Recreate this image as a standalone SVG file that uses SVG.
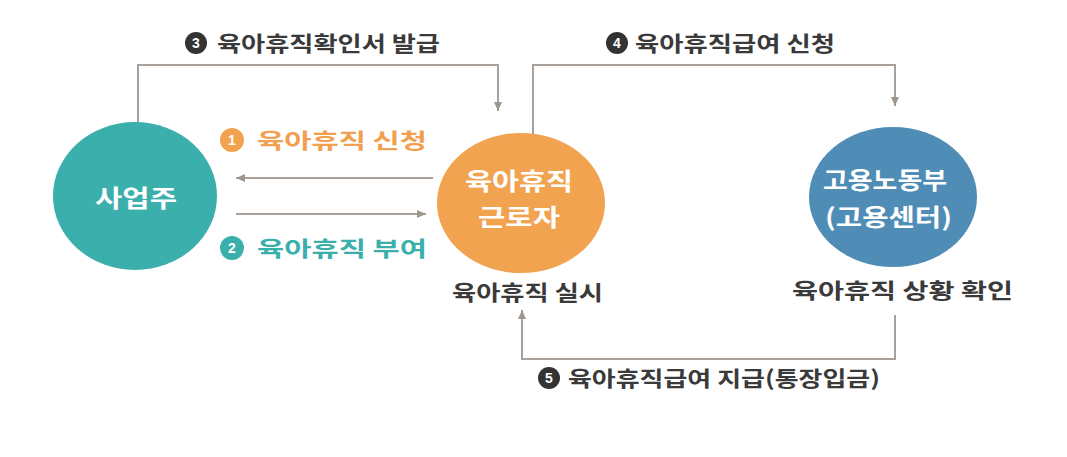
<svg xmlns="http://www.w3.org/2000/svg" width="1067" height="457" viewBox="0 0 1067 457">
<defs>
<marker id="ah" markerWidth="10" markerHeight="10" refX="9" refY="5" orient="auto" markerUnits="userSpaceOnUse">
<path d="M0,1 L9,5 L0,9 Z" fill="#9e968f"/>
</marker>
<style>
.ln{fill:none;stroke:#a8a09a;stroke-width:2}
.t{font-family:"Noto Sans CJK KR","Noto Sans",sans-serif;font-weight:bold}
.lbl{font-size:21px;fill:#3a3a3a}
.nd{font-size:24px;fill:#ffffff}
.num{font-family:"Liberation Sans",sans-serif;font-weight:bold;font-size:14px;fill:#ffffff;text-anchor:middle}
</style>
</defs>
<rect width="1067" height="457" fill="#ffffff"/>
<g id="connectors">
<path class="ln" d="M138,125 V65 H498 V111" marker-end="url(#ah)"/>
<path class="ln" d="M533,140 V65 H895 V106" marker-end="url(#ah)"/>
<path class="ln" d="M433,178 H236" marker-end="url(#ah)"/>
<path class="ln" d="M236,214 H426" marker-end="url(#ah)"/>
<path class="ln" d="M895,315 V359 H522 V310" marker-end="url(#ah)"/>
</g>
<g id="node-employer">
<ellipse cx="135" cy="196" rx="82" ry="74" fill="#3aafab"/>
<text class="t nd" x="95" y="207" textLength="82" lengthAdjust="spacingAndGlyphs">사업주</text>
</g>
<g id="node-worker">
<ellipse cx="521" cy="203" rx="84" ry="70" fill="#f2a34f"/>
<text class="t nd" x="465" y="190" textLength="108" lengthAdjust="spacingAndGlyphs">육아휴직</text>
<text class="t nd" x="478" y="226" textLength="82" lengthAdjust="spacingAndGlyphs">근로자</text>
<text class="t lbl" x="452" y="299.5" textLength="151" lengthAdjust="spacingAndGlyphs">육아휴직 실시</text>
</g>
<g id="node-ministry">
<ellipse cx="893" cy="197" rx="84" ry="70" fill="#4f8db6"/>
<text class="t nd" x="823" y="188.5" textLength="124" lengthAdjust="spacingAndGlyphs">고용노동부</text>
<text class="t nd" x="825" y="225.5" textLength="127" lengthAdjust="spacingAndGlyphs">(고용센터)</text>
<text class="t lbl" x="792" y="297.5" textLength="221" lengthAdjust="spacingAndGlyphs">육아휴직 상황 확인</text>
</g>
<g id="label-1">
<circle cx="232" cy="140" r="12" fill="#f2a34f"/>
<text class="num" x="232" y="145">1</text>
<text class="t lbl" x="257" y="148" fill="#f2a34f" style="fill:#f2a050" textLength="170" lengthAdjust="spacingAndGlyphs">육아휴직 신청</text>
</g>
<g id="label-2">
<circle cx="232" cy="248" r="12" fill="#3aafab"/>
<text class="num" x="232" y="253">2</text>
<text class="t lbl" x="257" y="256" style="fill:#3aafab" textLength="170" lengthAdjust="spacingAndGlyphs">육아휴직 부여</text>
</g>
<g id="label-3">
<circle cx="196" cy="43" r="11" fill="#333333"/>
<text class="num" x="196" y="48">3</text>
<text class="t lbl" x="217" y="51" textLength="223" lengthAdjust="spacingAndGlyphs">육아휴직확인서 발급</text>
</g>
<g id="label-4">
<circle cx="617" cy="43" r="11" fill="#333333"/>
<text class="num" x="617" y="48">4</text>
<text class="t lbl" x="635" y="51" textLength="200" lengthAdjust="spacingAndGlyphs">육아휴직급여 신청</text>
</g>
<g id="label-5">
<circle cx="549" cy="378" r="11" fill="#333333"/>
<text class="num" x="549" y="383">5</text>
<text class="t lbl" x="568" y="386" textLength="312" lengthAdjust="spacingAndGlyphs">육아휴직급여 지급(통장입금)</text>
</g>
</svg>
